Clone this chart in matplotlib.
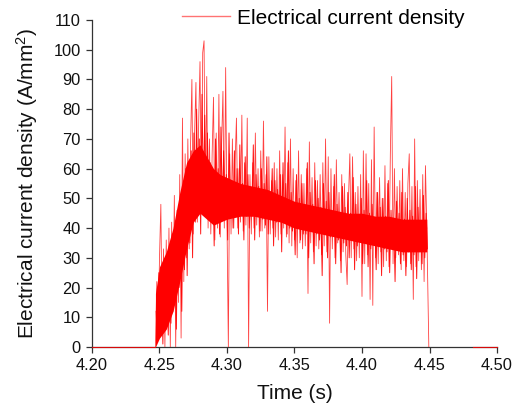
import numpy as np
import matplotlib
matplotlib.use("Agg")
import matplotlib.pyplot as plt
from matplotlib.lines import Line2D

plt.rcParams['font.family'] = ['Liberation Sans', 'DejaVu Sans']
plt.rcParams['mathtext.fontset'] = 'custom'
plt.rcParams['mathtext.rm'] = 'Liberation Sans'
plt.rcParams['mathtext.it'] = 'Liberation Sans:italic'

# ---- data ----
# zero level before and after the pulse
baseline_t = [4.200, 4.2465]
baseline_v = [0, 0]
tail_t = [4.482, 4.500]
tail_v = [0, 0]

# dense body of the signal (lower / upper envelope)
core_t = [4.247, 4.250, 4.255, 4.260, 4.265, 4.270, 4.275, 4.280, 4.285, 4.290,
          4.295, 4.300, 4.310, 4.320, 4.330, 4.340, 4.350, 4.360, 4.370, 4.380,
          4.390, 4.400, 4.410, 4.420, 4.430, 4.440, 4.448]
core_lo = [0, 3, 6, 12, 22, 33, 42, 45, 43, 41,
           42, 43, 44, 44, 43, 42, 40, 39, 38, 37,
           36, 35, 34, 33, 32, 32, 32]
core_hi = [18, 27, 32, 40, 52, 62, 66, 68, 64, 60,
           58, 57, 55, 54, 53, 51, 49, 48, 47, 46,
           45, 45, 44, 44, 43, 43, 43]

# sampled signal, 1 ms step starting at 4.247 s (extreme excursions)
sig_start = 4.247
sig_step = 0.001
signal = [
    0, 22, 3, 30, 48, 5, 33, 0, 36, 8,
    40, 0, 42, 12, 51, 0, 46, 15, 58, 3,
    77, 22, 65, 30, 70, 33, 68, 90, 38, 72,
    89, 42, 75, 96, 45, 99, 103, 44, 91, 40,
    70, 38, 65, 84, 36, 72, 40, 85, 37, 68,
    86, 40, 94, 42, 0, 65, 38, 70, 40, 62,
    77, 40, 60, 42, 78, 39, 62, 41, 77, 0,
    58, 38, 62, 40, 72, 41, 60, 37, 66, 39,
    76, 40, 58, 12, 64, 38, 56, 40, 62, 37,
    60, 36, 66, 38, 58, 40, 74, 37, 62, 35,
    70, 34, 60, 36, 56, 30, 66, 35, 58, 33,
    55, 34, 60, 18, 69, 35, 57, 32, 62, 34,
    56, 33, 58, 31, 62, 34, 70, 32, 64, 8,
    60, 33, 54, 30, 63, 35, 52, 29, 58, 32,
    55, 31, 21, 50, 65, 30, 64, 33, 52, 29,
    54, 30, 58, 17, 66, 28, 65, 31, 55, 16,
    63, 14, 74, 30, 52, 28, 57, 32, 50, 27,
    61, 29, 55, 27, 65, 91, 28, 60, 30, 54,
    31, 56, 26, 60, 29, 52, 27, 55, 65, 28,
    54, 16, 70, 27, 56, 29, 53, 26, 58, 22,
    61, 40,
]
# interleaved samples (half a step later), mostly inside the body
sig_b_start = 4.2475
signal_b = [
    12, 2, 25, 6, 18, 1, 28, 10, 22, 4,
    30, 8, 38, 14, 33, 6, 44, 20, 40, 12,
    52, 26, 60, 24, 58, 35, 66, 30, 72, 42,
    80, 46, 70, 38, 85, 50, 78, 45, 72, 44,
    62, 42, 58, 34, 70, 45, 60, 38, 74, 46,
    66, 44, 58, 36, 72, 45, 56, 40, 66, 44,
    60, 38, 68, 46, 55, 36, 64, 44, 58, 40,
    52, 44, 68, 36, 58, 46, 54, 39, 60, 43,
    55, 41, 64, 38, 52, 45, 60, 34, 56, 42,
    53, 43, 58, 32, 62, 42, 55, 38, 66, 40,
    52, 39, 48, 31, 58, 40, 50, 36, 55, 38,
    47, 38, 62, 30, 52, 40, 48, 28, 56, 38,
    50, 36, 47, 24, 55, 38, 49, 30, 52, 37,
    46, 38, 58, 28, 48, 36, 44, 25, 54, 35,
    47, 34, 52, 30, 45, 37, 57, 26, 48, 34,
    44, 36, 50, 28, 46, 35, 56, 27, 45, 33,
    48, 35, 43, 26, 52, 34, 47, 24, 50, 33,
    44, 32, 56, 25, 46, 33, 42, 22, 49, 34,
    45, 28, 52, 31, 43, 24, 50, 32, 46, 26,
    44, 31, 54, 23, 47, 33, 42, 28, 51, 30,
    45, 33,
]
end_t = [4.448, 4.4495]
end_v = [40, 0]

x_ticks = [4.20, 4.25, 4.30, 4.35, 4.40, 4.45, 4.50]
x_labels = ['4.20', '4.25', '4.30', '4.35', '4.40', '4.45', '4.50']
y_ticks = list(range(0, 111, 10))

# ---- figure ----
W, H = 519, 407
fig = plt.figure(figsize=(W / 100, H / 100), dpi=100)
ax = fig.add_axes([92 / W, 1 - 347 / H, (497 - 92) / W, (347 - 20) / H])

red = '#ff0000'
sig_t = sig_start + sig_step * np.arange(len(signal))
sig_b_t = sig_b_start + sig_step * np.arange(len(signal_b))

ax.fill_between(core_t, core_lo, core_hi, color=red, linewidth=0, zorder=2)
ax.plot(sig_b_t, signal_b, color=red, lw=0.7, alpha=0.9, zorder=3)
ax.plot(sig_t, signal, color=red, lw=0.6, alpha=0.75, zorder=3)
ax.plot(end_t, end_v, color=red, lw=0.6, alpha=0.75, zorder=3)
ax.plot(baseline_t, baseline_v, color=red, lw=0.8, alpha=0.8, zorder=4, clip_on=False)
ax.plot(tail_t, tail_v, color=red, lw=0.8, alpha=0.8, zorder=4, clip_on=False)

ax.set_xlim(4.20, 4.50)
ax.set_ylim(0, 110)
ax.set_xticks(x_ticks)
ax.set_xticklabels(x_labels)
ax.set_yticks(y_ticks)

for s in ['top', 'right']:
    ax.spines[s].set_visible(False)
for s in ['left', 'bottom']:
    ax.spines[s].set_color('#333333')
    ax.spines[s].set_linewidth(0.9)

ax.tick_params(direction='out', length=4, width=0.9, color='#333333',
               labelsize=11.8, labelcolor='#111111', pad=4)

ax.set_xlabel('Time (s)', fontsize=15, color='#111111', labelpad=8)
ax.set_ylabel('Electrical current density (A/mm$^{\\mathrm{2}}$)', fontsize=15,
              color='#111111', labelpad=10)

handle = Line2D([], [], color=red, lw=1.0, alpha=0.55)
fig.legend([handle], ['Electrical current density'], loc='center left',
           bbox_to_anchor=(182 / W, 1 - 18 / H), bbox_transform=fig.transFigure,
           frameon=False, fontsize=15, handlelength=2.3, handletextpad=0.35,
           borderpad=0, borderaxespad=0)

fig.savefig('out.png', dpi=100, facecolor='white')
